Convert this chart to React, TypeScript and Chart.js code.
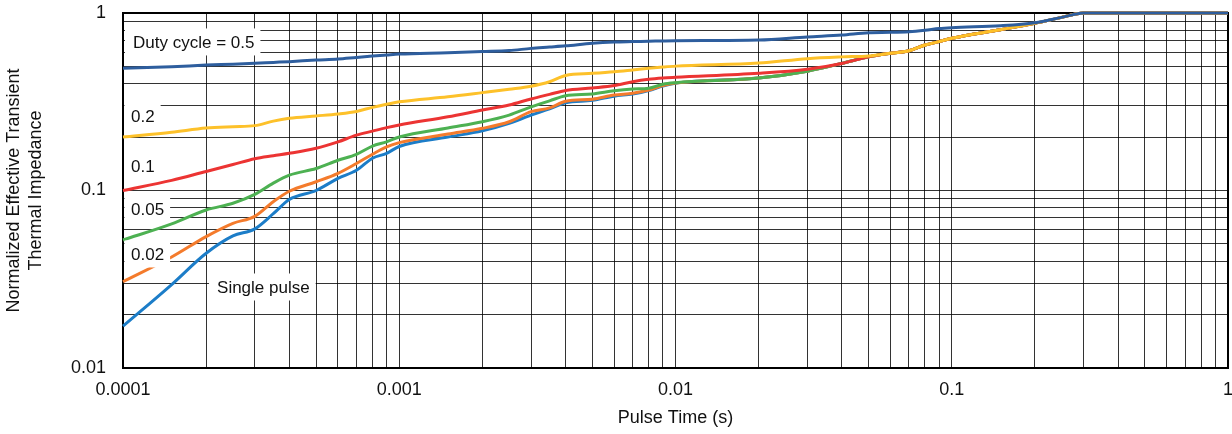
import React, { useEffect, useRef } from 'react';
import { Chart, registerables } from 'chart.js';

Chart.register(...registerables);

const FONT = "'Liberation Sans', Arial, Helvetica, sans-serif";

const pulseTimes = [
  1e-4, 1.5e-4, 2e-4, 2.5e-4, 3e-4, 3.5e-4, 4e-4, 5e-4, 6e-4, 7e-4, 8e-4, 9e-4,
  1e-3, 1.5e-3, 2e-3, 2.5e-3, 3e-3, 3.5e-3, 4e-3, 5e-3, 6e-3, 7e-3, 8e-3, 9e-3,
  1e-2, 2e-2, 3e-2, 4e-2, 5e-2, 6e-2, 7e-2, 8e-2, 9e-2, 0.1, 0.15, 0.2, 0.25, 0.3, 1,
];

const duty05 = [
  0.488, 0.498, 0.509, 0.515, 0.521, 0.527, 0.532, 0.543, 0.55, 0.562, 0.572, 0.58,
  0.587, 0.597, 0.606, 0.614, 0.632, 0.643, 0.653, 0.675, 0.686, 0.69, 0.693, 0.696,
  0.698, 0.704, 0.733, 0.751, 0.774, 0.778, 0.785, 0.8, 0.818, 0.827, 0.848, 0.882, 0.945, 1, 1,
];

const duty02 = [
  0.2, 0.213, 0.225, 0.229, 0.232, 0.246, 0.255, 0.263, 0.27, 0.279, 0.294, 0.306,
  0.316, 0.337, 0.356, 0.372, 0.387, 0.41, 0.445, 0.457, 0.467, 0.478, 0.488, 0.496,
  0.502, 0.522, 0.553, 0.566, 0.573, 0.593, 0.613, 0.66, 0.69, 0.72, 0.805, 0.875, 0.945, 1, 1,
];

const duty01 = [
  0.1, 0.114, 0.128, 0.14, 0.151, 0.157, 0.162, 0.173, 0.188, 0.205, 0.216, 0.226,
  0.234, 0.26, 0.284, 0.303, 0.328, 0.348, 0.366, 0.378, 0.39, 0.41, 0.423, 0.43,
  0.434, 0.457, 0.482, 0.52, 0.566, 0.593, 0.613, 0.66, 0.69, 0.72, 0.805, 0.875, 0.945, 1, 1,
];

const duty005 = [
  0.0526, 0.0648, 0.0777, 0.0847, 0.095, 0.11, 0.122, 0.133, 0.148, 0.16, 0.178, 0.188,
  0.2, 0.225, 0.244, 0.266, 0.296, 0.32, 0.342, 0.35, 0.365, 0.373, 0.377, 0.397,
  0.405, 0.43, 0.47, 0.52, 0.566, 0.593, 0.613, 0.66, 0.69, 0.72, 0.805, 0.875, 0.945, 1, 1,
];

const duty002 = [
  0.0306, 0.0422, 0.055, 0.0653, 0.0715, 0.0865, 0.099, 0.112, 0.125, 0.142, 0.16, 0.176,
  0.186, 0.208, 0.224, 0.244, 0.278, 0.292, 0.318, 0.327, 0.345, 0.353, 0.368, 0.39,
  0.403, 0.43, 0.47, 0.52, 0.566, 0.593, 0.613, 0.66, 0.69, 0.72, 0.805, 0.875, 0.945, 1, 1,
];

const singlePulse = [
  0.0172, 0.0295, 0.0443, 0.0555, 0.0608, 0.074, 0.089, 0.1, 0.117, 0.13, 0.152, 0.162,
  0.177, 0.2, 0.217, 0.239, 0.266, 0.288, 0.312, 0.322, 0.34, 0.35, 0.366, 0.388,
  0.402, 0.43, 0.47, 0.52, 0.566, 0.593, 0.613, 0.66, 0.69, 0.72, 0.805, 0.875, 0.945, 1, 1,
];

const seriesNames = ['Duty cycle = 0.5', '0.2', '0.1', '0.05', '0.02', 'Single pulse'];
const seriesColors = ['#2E5E9E', '#FDC12A', '#EC3433', '#4DB152', '#F47B2C', '#1C7DC8'];
const seriesValues = [duty05, duty02, duty01, duty005, duty002, singlePulse];

const xDecades = [1e-4, 1e-3, 1e-2, 1e-1, 1];
const xTickLabels = ['0.0001', '0.001', '0.01', '0.1', '1'];
const yDecades = [0.01, 0.1, 1];
const yTickLabels = ['0.01', '0.1', '1'];

const xTitle = 'Pulse Time (s)';
const yTitle = ['Normalized Effective Transient', 'Thermal Impedance'];

// in-plot curve labels, anchored at (pulse time, impedance) of the text's left/middle point
const curveLabelTexts = ['Duty cycle = 0.5', '0.2', '0.1', '0.05', '0.02', 'Single pulse'];
const curveLabelX = [1.087e-4, 1.069e-4, 1.069e-4, 1.069e-4, 1.069e-4, 2.19e-4];
const curveLabelY = [0.687, 0.263, 0.1374, 0.0787, 0.0439, 0.0286];

function gridValues(decades: number[]) {
  const out: number[] = [];
  for (let i = 0; i < decades.length - 1; i++) {
    for (let m = 1; m <= 9; m++) out.push(decades[i] * m);
  }
  out.push(decades[decades.length - 1]);
  return out;
}

function decadeLabel(value: number, decades: number[], labels: string[]) {
  const i = decades.findIndex((d) => Math.abs(value / d - 1) < 1e-6);
  return i >= 0 ? labels[i] : '';
}

const framePlugin = {
  id: 'frame',
  beforeDatasetsDraw(chart: any) {
    const { ctx, chartArea } = chart;
    const { left, top, right, bottom } = chartArea;
    ctx.save();
    ctx.strokeStyle = '#000';
    ctx.lineWidth = 2;
    ctx.strokeRect(left, top, right - left, bottom - top);
    ctx.restore();
  },
};

const curveLabelPlugin = {
  id: 'curveLabels',
  afterDatasetsDraw(chart: any) {
    const { ctx, chartArea, scales } = chart;
    ctx.save();
    ctx.font = `17px ${FONT}`;
    ctx.textAlign = 'left';
    ctx.textBaseline = 'middle';
    curveLabelTexts.forEach((text, i) => {
      const px = scales.x.getPixelForValue(curveLabelX[i]);
      const py = scales.y.getPixelForValue(curveLabelY[i]);
      const w = ctx.measureText(text).width;
      const bx = Math.max(px - 8, chartArea.left + 1.5);
      const bw = px + w + 6 - bx;
      ctx.fillStyle = '#ffffff';
      ctx.fillRect(bx, py - 13.5, bw, 27);
      ctx.fillStyle = '#111';
      ctx.fillText(text, px, py + 1);
    });
    ctx.restore();
  },
};

export default function App() {
  const canvasRef = useRef<HTMLCanvasElement | null>(null);

  useEffect(() => {
    const canvas = canvasRef.current;
    if (!canvas) return;
    const datasets = seriesValues.map((vals, s) => ({
      label: seriesNames[s],
      data: pulseTimes.map((t, i) => ({ x: t, y: vals[i] })),
      borderColor: seriesColors[s],
      backgroundColor: seriesColors[s],
      borderWidth: 3,
      pointRadius: 0,
      fill: false,
      cubicInterpolationMode: 'monotone' as const,
      clip: false as any,
    }));

    const chart = new Chart(canvas, {
      type: 'line',
      data: { datasets },
      options: {
        animation: false,
        responsive: false,
        devicePixelRatio: 1,
        events: [],
        layout: { padding: { top: 13, right: 4, bottom: 0, left: 0 } },
        plugins: {
          legend: { display: false },
          tooltip: { enabled: false },
        },
        scales: {
          x: {
            type: 'logarithmic',
            min: 1e-4,
            max: 1,
            afterBuildTicks: (scale: any) => {
              scale.ticks = gridValues(xDecades).map((v) => ({ value: v }));
            },
            afterFit: (scale: any) => {
              scale.height = 66;
              scale.paddingLeft = 0;
              scale.paddingRight = 0;
            },
            ticks: {
              autoSkip: false,
              maxRotation: 0,
              minRotation: 0,
              padding: 11,
              color: '#111',
              font: { family: FONT, size: 18 },
              callback: (value: any) => decadeLabel(Number(value), xDecades, xTickLabels),
            },
            grid: { color: 'rgba(0,0,0,0.8)', lineWidth: 1, drawTicks: false },
            border: { display: false },
            title: {
              display: true,
              text: xTitle,
              color: '#111',
              font: { family: FONT, size: 18, lineHeight: 1.2 },
              padding: { top: 0, bottom: 5 },
            },
          },
          y: {
            type: 'logarithmic',
            min: 0.01,
            max: 1,
            afterBuildTicks: (scale: any) => {
              scale.ticks = gridValues(yDecades).map((v) => ({ value: v }));
            },
            afterFit: (scale: any) => {
              scale.width = 123;
              scale.paddingTop = 0;
              scale.paddingBottom = 0;
            },
            ticks: {
              autoSkip: false,
              padding: 17,
              color: '#111',
              font: { family: FONT, size: 18 },
              callback: (value: any) => decadeLabel(Number(value), yDecades, yTickLabels),
            },
            grid: { color: 'rgba(0,0,0,0.8)', lineWidth: 1, drawTicks: false },
            border: { display: false },
            title: {
              display: true,
              text: yTitle,
              color: '#111',
              font: { family: FONT, size: 18, lineHeight: 1.17 },
              padding: { top: 4, bottom: 0 },
            },
          },
        },
      },
      plugins: [framePlugin, curveLabelPlugin],
    } as any);

    return () => chart.destroy();
  }, []);

  return (
    <div style={{ position: 'fixed', left: 0, top: 0, width: 1232, height: 434, background: '#fff' }}>
      <canvas ref={canvasRef} width={1232} height={434} style={{ display: 'block', width: 1232, height: 434 }} />
    </div>
  );
}
